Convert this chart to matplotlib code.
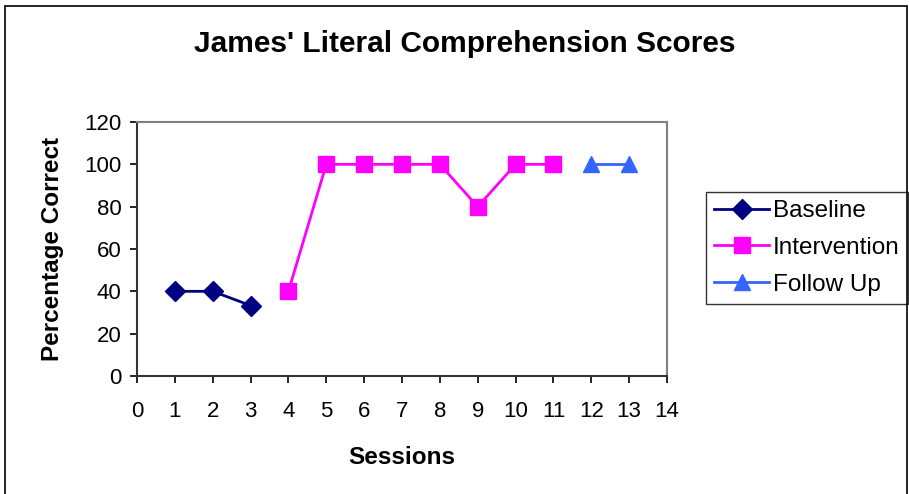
import numpy as np
import matplotlib
matplotlib.use("Agg")
import matplotlib.pyplot as plt
from matplotlib.patches import Rectangle

plt.rcParams['font.family'] = ['Liberation Sans', 'DejaVu Sans']

# data
baseline_x = [1, 2, 3]
baseline_y = [40, 40, 33.3]
interv_x = [4, 5, 6, 7, 8, 9, 10, 11]
interv_y = [40, 100, 100, 100, 100, 80, 100, 100]
follow_x = [12, 13]
follow_y = [100, 100]

fig = plt.figure(figsize=(9.09, 4.94), dpi=100)
ax = fig.add_axes([0.1507, 0.2389, 0.5831, 0.5141])

# outer chart border
fig.patches.append(Rectangle((0.005, -0.01), 0.993, 0.998, transform=fig.transFigure,
                             fill=False, edgecolor='black', linewidth=1.2))

ax.plot(baseline_x, baseline_y, color='#000080', marker='D', markersize=10,
        linewidth=2, label='Baseline')
ax.plot(interv_x, interv_y, color='#FF00FF', marker='s', markersize=11,
        linewidth=2, label='Intervention')
ax.plot(follow_x, follow_y, color='#3366FF', marker='^', markersize=12,
        linewidth=2, label='Follow Up')

ax.set_xlim(0, 14)
ax.set_ylim(0, 120)
ax.set_xticks(range(0, 15))
ax.set_yticks(range(0, 121, 20))
ax.tick_params(direction='out', length=5, width=1.2, labelsize=16)
ax.tick_params(axis='x', pad=13)
ax.tick_params(axis='y', pad=6)

for s in ['top', 'right']:
    ax.spines[s].set_color('#808080')
    ax.spines[s].set_linewidth(1.5)
for s in ['left', 'bottom']:
    ax.spines[s].set_color('#333333')
    ax.spines[s].set_linewidth(1.5)

ax.set_xlabel('Sessions', fontsize=17.5, fontweight='bold', labelpad=17)
ax.set_ylabel('Percentage Correct', fontsize=17.5, fontweight='bold', labelpad=15)
fig.text(0.511, 0.91, "James' Literal Comprehension Scores", ha='center', va='center',
         fontsize=21.5, fontweight='bold')

leg = ax.legend(loc='center left', bbox_to_anchor=(1.073, 0.504), fontsize=17.5,
                frameon=True, fancybox=False, edgecolor='black', handlelength=2.25,
                handletextpad=0.15, borderpad=0.35, labelspacing=0.6, borderaxespad=0)
leg.get_frame().set_linewidth(1.0)

fig.savefig('out.png', dpi=100)
